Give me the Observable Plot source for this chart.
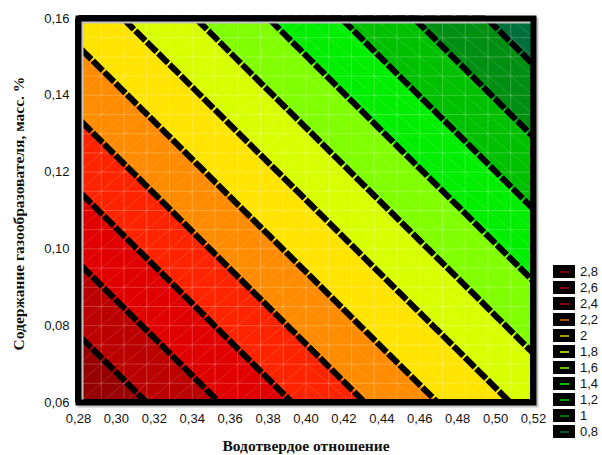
<!DOCTYPE html>
<html><head><meta charset="utf-8">
<script src="https://cdn.jsdelivr.net/npm/d3@7"></script>
<script src="https://cdn.jsdelivr.net/npm/@observablehq/plot@0.6"></script>
<style>
body{margin:0;background:#fff;}
#wrap{position:relative;width:602px;height:455px;overflow:hidden;background:#fff;}
#legend{position:absolute;left:553px;top:265px;font-family:Arial,"Liberation Sans",sans-serif;font-size:13px;color:#111;}
.row{position:relative;height:16px;}
.box{position:absolute;left:0;top:0;width:22px;height:13px;background:#000;}
.dash{position:absolute;left:7px;top:5.5px;width:9px;height:2px;}
.lab{position:absolute;left:27px;top:-1px;line-height:16px;white-space:nowrap;}
</style></head><body><div id="wrap"></div>
<script>
// Grid sample positions (data units)
const xValues = [0.28, 0.32, 0.36, 0.40, 0.44, 0.48, 0.52];
const yValues = [0.06, 0.08, 0.10, 0.12, 0.14, 0.16];
// Response values (rows follow yValues, columns follow xValues)
const zRow006 = [2.987, 2.779, 2.570, 2.362, 2.153, 1.945, 1.736];
const zRow008 = [2.774, 2.566, 2.357, 2.149, 1.940, 1.732, 1.523];
const zRow010 = [2.561, 2.353, 2.144, 1.936, 1.727, 1.519, 1.310];
const zRow012 = [2.348, 2.140, 1.931, 1.723, 1.514, 1.306, 1.097];
const zRow014 = [2.135, 1.927, 1.718, 1.510, 1.301, 1.093, 0.884];
const zRow016 = [1.922, 1.714, 1.506, 1.297, 1.089, 0.880, 0.672];
const zRows = [zRow006, zRow008, zRow010, zRow012, zRow014, zRow016];

// Contour levels and band colours
const levels = [0.8, 1.0, 1.2, 1.4, 1.6, 1.8, 2.0, 2.2, 2.4, 2.6, 2.8];
const bandFloors = [0, 0.8, 1.0, 1.2, 1.4, 1.6, 1.8, 2.0, 2.2, 2.4, 2.6, 2.8];
const bandColors = ["#00703a", "#008f10", "#00c000", "#00ee00", "#80ff00", "#d8ff00",
                    "#ffe400", "#ff8c00", "#ff2400", "#e00000", "#bb0000", "#960000"];
// Legend entries (top to bottom)
const legendLabels = ["2,8", "2,6", "2,4", "2,2", "2", "1,8", "1,6", "1,4", "1,2", "1", "0,8"];
const legendColors = ["#7a0000", "#800000", "#8c0000", "#b05000", "#a0a000", "#a8c000",
                      "#60c000", "#00c000", "#00a000", "#007000", "#005a30"];
// Axis ticks
const xTicks = [0.28, 0.30, 0.32, 0.34, 0.36, 0.38, 0.40, 0.42, 0.44, 0.46, 0.48, 0.50, 0.52];
const yTicks = [0.06, 0.08, 0.10, 0.12, 0.14, 0.16];
const xTitle = "Водотвердое отношение";
const yTitle = "Содержание газообразователя, масс. %";

const table = [];
yValues.forEach((y, j) => xValues.forEach((x, i) => table.push({x, y, z: zRows[j][i]})));

const fmt = d => d.toFixed(2).replace(".", ",");
const xd = [0.28, 0.52], yd = [0.06, 0.16];
const N = 20;
const meshX = d3.range(N + 1).map(k => xd[0] + k * (xd[1] - xd[0]) / N);
const meshY = d3.range(N + 1).map(k => yd[0] + k * (yd[1] - yd[0]) / N);
const diag = [];
for (let i = 0; i < N; i++) for (let j = 0; j < N; j++) {
  const back = i >= 10;
  diag.push(back
    ? {x1: meshX[i], y1: meshY[j + 1], x2: meshX[i + 1], y2: meshY[j]}
    : {x1: meshX[i], y1: meshY[j], x2: meshX[i + 1], y2: meshY[j + 1]});
}
const serif = "'Liberation Serif', 'Times New Roman', serif";

const chart = Plot.plot({
  width: 602, height: 455,
  marginLeft: 78, marginRight: 69, marginTop: 18, marginBottom: 53,
  x: {domain: xd},
  y: {domain: yd},
  color: {type: "ordinal", domain: bandFloors, range: bandColors},
  style: {fontFamily: "Arial, 'Liberation Sans', sans-serif", fontSize: "13px", color: "#111", background: "#fff"},
  marks: [
    Plot.contour(table, {x: "x", y: "y", fill: "z", thresholds: bandFloors, interpolate: "barycentric",
      x1: xd[0], x2: xd[1], y1: yd[0], y2: yd[1], stroke: "none"}),
    Plot.ruleX(meshX, {stroke: "white", strokeOpacity: 0.22, strokeWidth: 1}),
    Plot.ruleY(meshY, {stroke: "white", strokeOpacity: 0.22, strokeWidth: 1}),
    Plot.link(diag, {x1: "x1", y1: "y1", x2: "x2", y2: "y2", stroke: "white", strokeOpacity: 0.18, strokeWidth: 0.8}),
    Plot.contour(table, {x: "x", y: "y", value: "z", thresholds: levels, interpolate: "barycentric",
      x1: xd[0], x2: xd[1], y1: yd[0], y2: yd[1], fill: "none", stroke: "#000", strokeWidth: 6,
      strokeDasharray: "14,2"}),
    Plot.frame({stroke: "#c4c4c4", strokeWidth: 6, dx: 2, dy: 2}),
    Plot.frame({stroke: "#000", strokeWidth: 6}),
    Plot.axisX({ticks: xTicks, tickFormat: fmt, tickSize: 0, tickPadding: 11, label: null}),
    Plot.axisY({ticks: yTicks, tickFormat: fmt, tickSize: 0, tickPadding: 9, label: null}),
    Plot.text([xTitle], {text: d => d, frameAnchor: "bottom", lineAnchor: "middle", textAnchor: "middle", dy: 44,
      fontWeight: "bold", fontFamily: serif, fontSize: 15.5, fill: "#111"}),
    Plot.text([yTitle], {text: d => d, frameAnchor: "left", lineAnchor: "middle", textAnchor: "middle", dx: -59, dy: 3,
      rotate: -90, fontWeight: "bold", fontFamily: serif, fontSize: 15.5, fill: "#111"})
  ]
});
const wrap = document.getElementById("wrap");
wrap.appendChild(chart);

const leg = document.createElement("div");
leg.id = "legend";
legendLabels.forEach((lab, k) => {
  const row = document.createElement("div");
  row.className = "row";
  row.innerHTML = `<div class="box"><div class="dash" style="background:${legendColors[k]}"></div></div><span class="lab">${lab}</span>`;
  leg.appendChild(row);
});
wrap.appendChild(leg);
</script>
</body></html>
